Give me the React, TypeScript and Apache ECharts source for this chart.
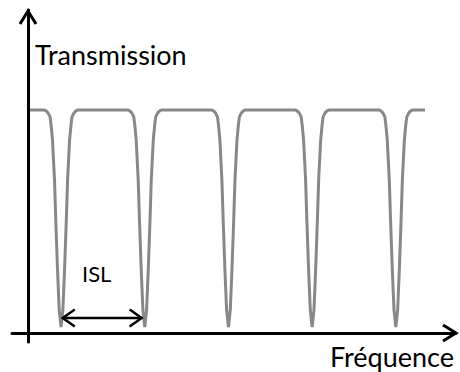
import React, { useEffect, useRef } from "react";
import * as echarts from "echarts";

// Frequency in arbitrary units (one free spectral range = 100 units)
const dipCenters = [39.5, 139.5, 239.5, 339.5, 439.5];
// Shape of one transmission dip (offset from centre, transmission)
const dipOffsets = [-20.3, -17.9, -15.5, -13.1, -11.9, -10.2, -7.8, -6.3, -4.2, -2.2, 0, 2.2, 4.2, 6.3, 7.8, 10.2, 11.9, 13.1, 15.5, 17.9, 20.3];
const dipValues = [1.0, 0.996, 0.987, 0.969, 0.933, 0.865, 0.686, 0.507, 0.283, 0.103, 0.027, 0.103, 0.283, 0.507, 0.686, 0.865, 0.933, 0.969, 0.987, 0.996, 1.0];
const curveStart = [2.4, 1.0];
const curveEnd = [474.3, 1.0];
const islFrom = 41.5;
const islTo = 135.8;
const islLevel = 0.067;
const yTitle = "Transmission";
const xTitle = "Fréquence";
const islText = "ISL";

const X_MIN = -19.1;
const X_MAX = 511.4;
const Y_MIN = -0.0404;
const Y_MAX = 1.4484;

export default function App() {
  const ref = useRef<HTMLDivElement>(null);
  useEffect(() => {
    if (!ref.current) return;
    const chart = echarts.init(ref.current, undefined, { renderer: "svg" });
    const data: number[][] = [curveStart];
    dipCenters.forEach((c) => {
      dipOffsets.forEach((o, i) => data.push([c + o, dipValues[i]]));
    });
    data.push(curveEnd);

    const axisCommon = {
      type: "value" as const,
      axisLine: { show: true, onZero: true, lineStyle: { color: "#000", width: 3 } },
      axisTick: { show: false },
      axisLabel: { show: false },
      splitLine: { show: false },
    };
    chart.setOption({
      animation: false,
      grid: { left: 12, right: 4, top: 10, bottom: 30 },
      xAxis: { ...axisCommon, min: X_MIN, max: X_MAX },
      yAxis: { ...axisCommon, min: Y_MIN, max: Y_MAX },
      series: [
        {
          type: "line",
          data,
          symbol: "none",
          lineStyle: { color: "#888888", width: 3 },
          z: 3,
        },
      ],
    });

    const p = (x: number, y: number) => chart.convertToPixel({ gridIndex: 0 }, [x, y]) as number[];
    const yTip = p(0, Y_MAX);
    const xTip = p(X_MAX, 0);
    const L = p(islFrom, islLevel);
    const R = p(islTo, islLevel);
    const black = { stroke: "#000", fill: null as any, lineJoin: "miter" as const };
    chart.setOption({
      graphic: [
        { type: "polyline", shape: { points: [[yTip[0] - 8, yTip[1] + 14], [yTip[0], yTip[1] + 1], [yTip[0] + 8, yTip[1] + 14]] }, style: { ...black, lineWidth: 3 }, z: 10 },
        { type: "polyline", shape: { points: [[xTip[0] - 13, xTip[1] - 8], [xTip[0], xTip[1]], [xTip[0] - 13, xTip[1] + 8]] }, style: { ...black, lineWidth: 3 }, z: 10 },
        { type: "line", shape: { x1: L[0], y1: L[1], x2: R[0], y2: R[1] }, style: { stroke: "#000", lineWidth: 2.5 }, z: 10 },
        { type: "polyline", shape: { points: [[L[0] + 12, L[1] - 8.5], [L[0], L[1]], [L[0] + 12, L[1] + 8.5]] }, style: { ...black, lineWidth: 2.5 }, z: 10 },
        { type: "polyline", shape: { points: [[R[0] - 12, R[1] - 8.5], [R[0], R[1]], [R[0] - 12, R[1] + 8.5]] }, style: { ...black, lineWidth: 2.5 }, z: 10 },
        { type: "text", x: 35, y: 54.5, style: { text: yTitle, fontFamily: "Lato", fontSize: 27, fill: "#000", align: "left", verticalAlign: "middle" }, z: 10 },
        { type: "text", x: 454, y: 356.5, style: { text: xTitle, fontFamily: "Lato", fontSize: 27, fill: "#000", align: "right", verticalAlign: "middle" }, z: 10 },
        { type: "text", x: 82, y: 273.5, style: { text: islText, fontFamily: "Lato", fontSize: 22, fill: "#000", align: "left", verticalAlign: "middle" }, z: 10 },
      ],
    });
    return () => chart.dispose();
  }, []);
  return <div ref={ref} style={{ position: "absolute", left: 0, top: 0, width: 460, height: 372 }} />;
}
